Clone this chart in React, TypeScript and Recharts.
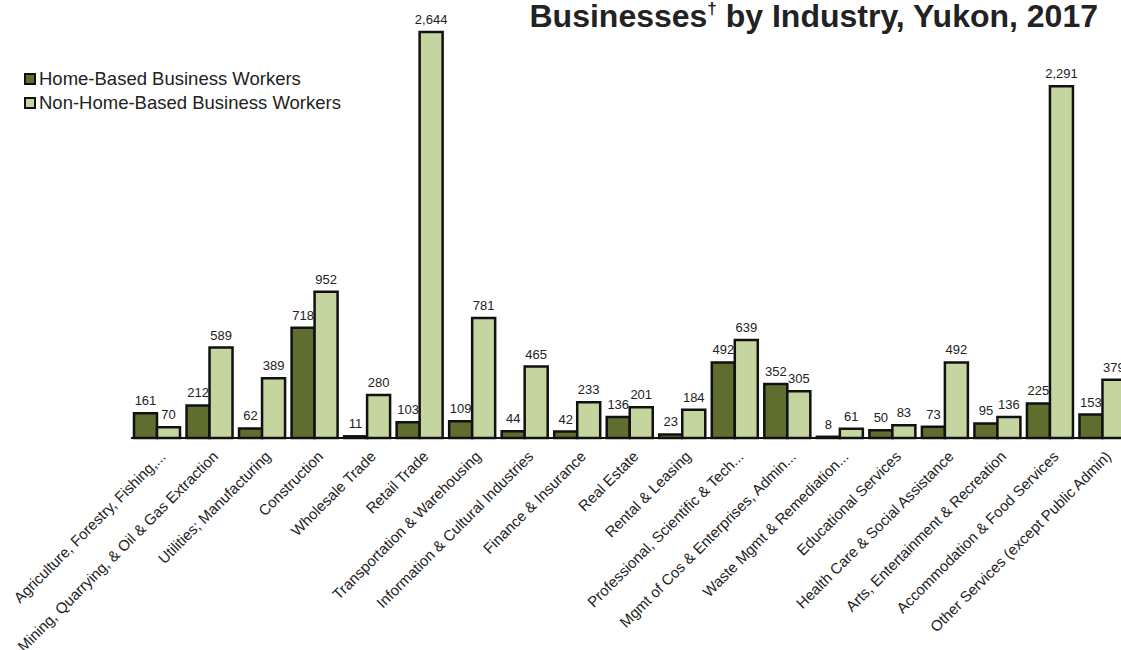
import { BarChart, Bar, XAxis, YAxis, LabelList } from 'recharts';

const CATEGORIES = [
  'Agriculture, Forestry, Fishing,...',
  'Mining, Quarrying, & Oil & Gas Extraction',
  'Utilities; Manufacturing',
  'Construction',
  'Wholesale Trade',
  'Retail Trade',
  'Transportation & Warehousing',
  'Information & Cultural Industries',
  'Finance & Insurance',
  'Real Estate',
  'Rental & Leasing',
  'Professional, Scientific & Tech...',
  'Mgmt of Cos & Enterprises, Admin...',
  'Waste Mgmt & Remediation...',
  'Educational Services',
  'Health Care & Social Assistance',
  'Arts, Entertainment & Recreation',
  'Accommodation & Food Services',
  'Other Services (except Public Admin)',
];

const HOME_BASED = [161, 212, 62, 718, 11, 103, 109, 44, 42, 136, 23, 492, 352, 8, 50, 73, 95, 225, 153];
const NON_HOME_BASED = [70, 589, 389, 952, 280, 2644, 781, 465, 233, 201, 184, 639, 305, 61, 83, 492, 136, 2291, 379];

const SERIES = [
  { key: 'home', name: 'Home-Based Business Workers', color: '#5f6d2f' },
  { key: 'nonHome', name: 'Non-Home-Based Business Workers', color: '#c5d5a0' },
];

const data = CATEGORIES.map((name, i) => ({
  name,
  home: HOME_BASED[i],
  nonHome: NON_HOME_BASED[i],
}));

const FONT = '"Liberation Sans", Arial, sans-serif';

function AngledTick(props: any) {
  const { x, y, payload } = props;
  const tx = x + 2;
  const ty = y + 4;
  return (
    <text
      x={tx}
      y={ty}
      transform={`rotate(-45, ${tx}, ${ty})`}
      textAnchor="end"
      dy="0.7em"
      fontSize={15}
      fontFamily={FONT}
      fill="#222"
    >
      {payload.value}
    </text>
  );
}

export default function App() {
  return (
    <div style={{ position: 'absolute', left: 0, top: 0, width: 1121, height: 650, overflow: 'hidden', background: '#fff' }}>
      <div
        style={{
          position: 'absolute',
          right: 1121 - 1098,
          top: 0,
          fontFamily: FONT,
          fontWeight: 'bold',
          fontSize: 32,
          lineHeight: '32px',
          color: '#222',
          whiteSpace: 'nowrap',
        }}
      >
        Businesses<span style={{ fontSize: 17, lineHeight: 0, verticalAlign: '0.75em' }}>†</span> by Industry, Yukon, 2017
      </div>
      <div
        style={{
          position: 'absolute',
          left: 24,
          top: 67,
          fontFamily: FONT,
          fontSize: 18.5,
          color: '#222',
          lineHeight: '24px',
        }}
      >
        {SERIES.map(s => (
          <div key={s.key} style={{ display: 'flex', alignItems: 'center' }}>
            <span
              style={{
                display: 'inline-block',
                width: 8,
                height: 8,
                background: s.color,
                border: '2px solid #111',
                marginRight: 3,
              }}
            />
            {s.name}
          </div>
        ))}
      </div>
      <BarChart
        width={1160}
        height={650}
        data={data}
        margin={{ top: 32, right: 31, left: 131, bottom: 12 }}
        barGap={0}
        barSize={23}
      >
        <XAxis
          dataKey="name"
          interval={0}
          height={200}
          axisLine={{ stroke: '#111', strokeWidth: 2 }}
          tickLine={false}
          tick={<AngledTick />}
        />
        <YAxis hide domain={[0, 2644]} />
        {SERIES.map(s => (
          <Bar
            key={s.key}
            dataKey={s.key}
            name={s.name}
            fill={s.color}
            stroke="#111"
            strokeWidth={2.5}
            isAnimationActive={false}
          >
            <LabelList
              dataKey={s.key}
              position="top"
              offset={8}
              formatter={(v: any) => Number(v).toLocaleString('en-US')}
              style={{ fontSize: 13, fontFamily: FONT, fill: '#222' }}
            />
          </Bar>
        ))}
      </BarChart>
    </div>
  );
}
